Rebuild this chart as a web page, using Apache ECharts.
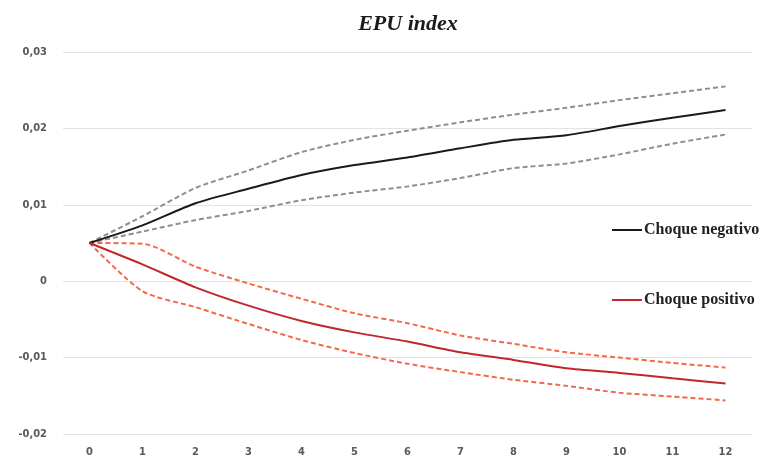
<!DOCTYPE html>
<html>
<head>
<meta charset="utf-8">
<script src="https://cdn.jsdelivr.net/npm/echarts@6/dist/echarts.min.js"></script>
<style>html,body{margin:0;padding:0;background:#fff}#c{width:765px;height:463px}</style>
</head>
<body>
<div id="c"></div>
<script>
var categories = ['0','1','2','3','4','5','6','7','8','9','10','11','12'];
var negativo = [0.005, 0.0073, 0.0102, 0.0121, 0.0139, 0.0152, 0.0162, 0.0174, 0.0185, 0.0191, 0.0203, 0.0214, 0.0224];
var negativoUpper = [0.005, 0.0085, 0.0122, 0.0145, 0.0169, 0.0185, 0.0197, 0.0208, 0.0218, 0.0227, 0.0237, 0.0246, 0.0255];
var negativoLower = [0.005, 0.0065, 0.0080, 0.0092, 0.0106, 0.0116, 0.0124, 0.0135, 0.0148, 0.0154, 0.0166, 0.0180, 0.0192];
var positivo = [0.005, 0.0022, -0.0008, -0.0032, -0.0052, -0.0067, -0.0079, -0.0093, -0.0103, -0.0114, -0.0120, -0.0127, -0.0134];
var positivoUpper = [0.005, 0.0049, 0.0019, -0.0003, -0.0023, -0.0042, -0.0055, -0.0071, -0.0082, -0.0093, -0.0100, -0.0107, -0.0113];
var positivoLower = [0.005, -0.0013, -0.0034, -0.0056, -0.0077, -0.0094, -0.0108, -0.0119, -0.0129, -0.0137, -0.0146, -0.0151, -0.0156];

var chart = echarts.init(document.getElementById('c'), null, {renderer: 'canvas'});
var axisFont = {fontFamily: '"Liberation Sans Narrow","DejaVu Sans Condensed","Liberation Sans",sans-serif', fontWeight: 'bold', fontSize: 11, color: '#595959'};
var legendText = {fontFamily: '"Liberation Serif",serif', fontWeight: 'bold', fontSize: 16, color: '#222', padding: [0,0,0,-3]};
function dashed(name, data, color) {
  return {name: name, type: 'line', data: data, symbol: 'none', smooth: 0.25,
    lineStyle: {color: color, width: 2, type: [5, 3]}, z: 2, silent: true};
}
chart.setOption({
  animation: false,
  title: {text: 'EPU index', left: 403, top: 8, textAlign: 'center',
    textStyle: {fontFamily: '"Liberation Serif","DejaVu Serif",serif', fontStyle: 'italic', fontWeight: 'bold', fontSize: 22, color: '#1a1a1a'}},
  legend: [
    {data: [{name: 'Choque negativo'}], left: 607, top: 217, orient: 'vertical', itemWidth: 30, itemHeight: 2, itemGap: 4,
      icon: 'rect', textStyle: legendText},
    {data: [{name: 'Choque positivo'}], left: 607, top: 287, orient: 'vertical', itemWidth: 30, itemHeight: 2, itemGap: 4,
      icon: 'rect', textStyle: legendText}
  ],
  grid: {left: 63, right: 13, top: 52, bottom: 29},
  xAxis: {type: 'category', data: categories, boundaryGap: true,
    axisLine: {show: false}, axisTick: {show: false},
    axisLabel: Object.assign({margin: 13}, axisFont)},
  yAxis: {type: 'value', min: -0.02, max: 0.03, interval: 0.01,
    axisLine: {show: false}, axisTick: {show: false},
    splitLine: {lineStyle: {color: '#e3e3e3', width: 1}},
    axisLabel: Object.assign({margin: 16, formatter: function (v) {
      if (Math.abs(v) < 1e-9) return '0';
      return v.toFixed(2).replace('.', ',');
    }}, axisFont)},
  series: [
    dashed('neg upper', negativoUpper, '#8f8f8f'),
    dashed('neg lower', negativoLower, '#8f8f8f'),
    dashed('pos upper', positivoUpper, '#f4694b'),
    dashed('pos lower', positivoLower, '#f4694b'),
    {name: 'Choque negativo', type: 'line', data: negativo, symbol: 'none', smooth: 0.25,
      itemStyle: {color: '#1a1a1a'}, lineStyle: {color: '#1a1a1a', width: 2}, z: 3},
    {name: 'Choque positivo', type: 'line', data: positivo, symbol: 'none', smooth: 0.25,
      itemStyle: {color: '#c0272d'}, lineStyle: {color: '#c0272d', width: 2}, z: 3}
  ]
});
</script>
</body>
</html>
